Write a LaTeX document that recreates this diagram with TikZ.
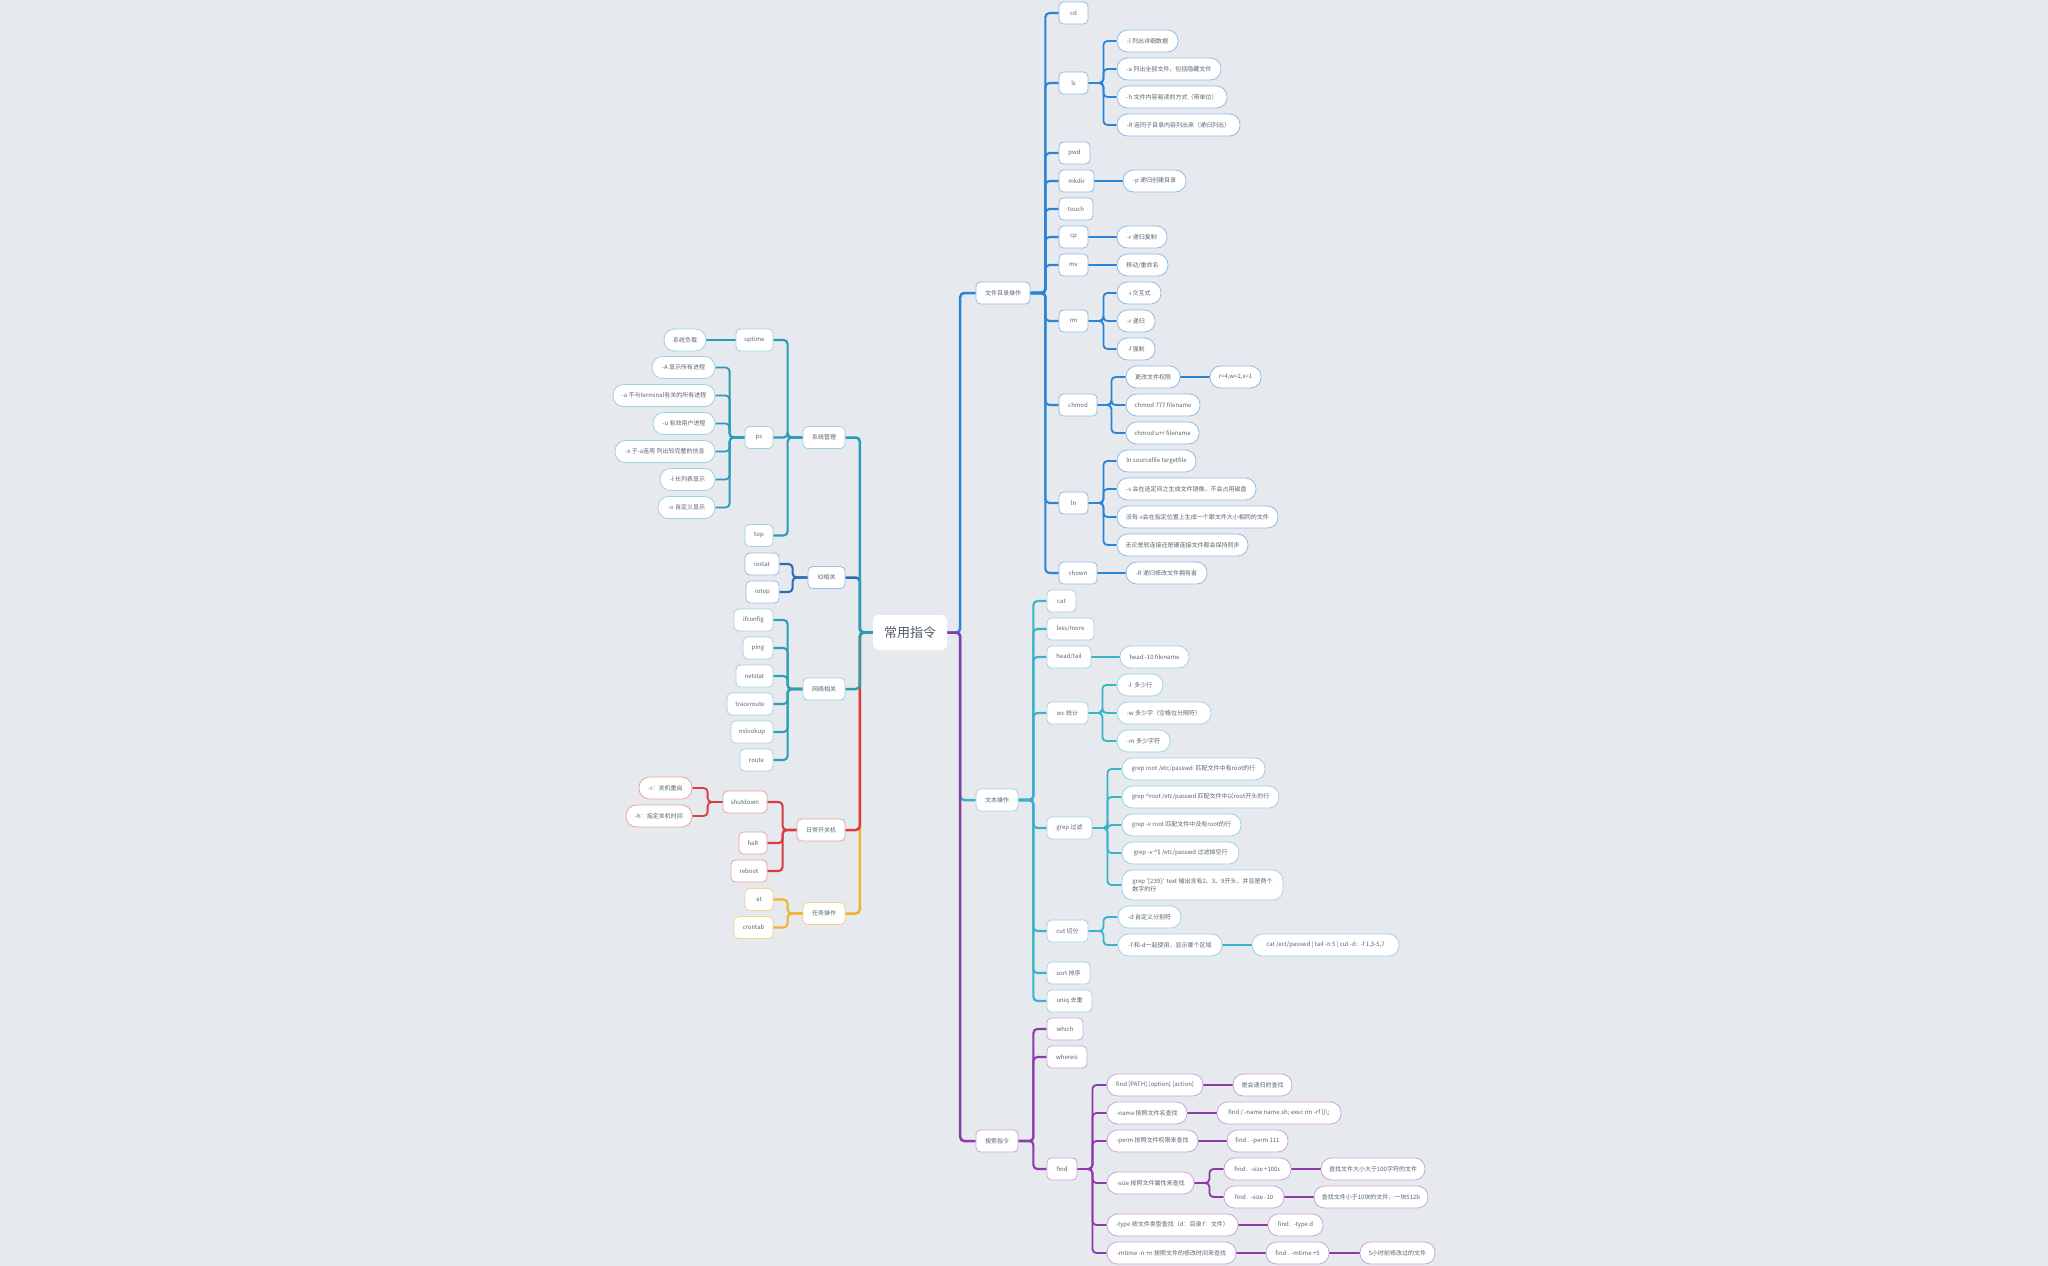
\documentclass[tikz,border=0pt]{standalone}
\usepackage{fontspec}
\newfontfamily\cjk{Noto Sans CJK SC}
\pgfdeclarelayer{bg}
\pgfdeclarelayer{lines}
\pgfsetlayers{bg,lines,main}
\definecolor{bgc}{HTML}{E6E9EE}
\definecolor{txtc}{HTML}{5A6470}
\definecolor{lBlue}{HTML}{2C84D6}\definecolor{bBlue}{HTML}{8EBDE6}
\definecolor{lTeal}{HTML}{3AB3C9}\definecolor{bTeal}{HTML}{9DD5DF}
\definecolor{lPurp}{HTML}{8B3BA7}\definecolor{bPurp}{HTML}{CDA3DB}
\definecolor{lSys}{HTML}{2A9CB6}\definecolor{bSys}{HTML}{9ED3DF}
\definecolor{lIO}{HTML}{2B6CB8}\definecolor{bIO}{HTML}{9BBBDF}
\definecolor{lNet}{HTML}{2E9FB2}\definecolor{bNet}{HTML}{9FD3DD}
\definecolor{lRed}{HTML}{D83C45}\definecolor{bRed}{HTML}{EAA1A7}
\definecolor{lYel}{HTML}{F0B331}\definecolor{bYel}{HTML}{F2D48A}
\tikzset{
  base/.style={draw, fill=white, line width=0.8pt, minimum height=22pt, inner sep=0pt,
    font=\cjk\fontsize{6}{8.5}\selectfont, text=txtc},
  rbox/.style={base, rounded corners=4.5pt},
  pill/.style={base, rounded corners=10.5pt},
  rootnode/.style={fill=white, rounded corners=6pt, minimum width=74pt, minimum height=35pt,
    inner sep=0pt, font=\cjk\fontsize{13}{15}\selectfont, text=txtc!90!black},
  Bb/.style={draw=bBlue}, Tb/.style={draw=bTeal}, Pb/.style={draw=bPurp},
  Sb/.style={draw=bSys}, Ib/.style={draw=bIO}, Nb/.style={draw=bNet},
  Rb/.style={draw=bRed}, Yb/.style={draw=bYel},
  lk0/.style={line width=2.5pt, rounded corners=4pt},
  lk1/.style={line width=2.1pt, rounded corners=4pt},
  lk/.style={line width=1.8pt, rounded corners=4pt},
}
\begin{document}
\begin{tikzpicture}[x=1pt,y=-1pt]
\begin{pgfonlayer}{bg}\fill[bgc] (0,0) rectangle (2048,1266);\end{pgfonlayer}
\useasboundingbox (0,0) rectangle (2048,1266);

\node[rootnode] (root) at (910,632.5) {常用指令};

% ---------- 文件目录操作 ----------
\node[rbox,Bb,minimum width=54] (fwd) at (1003,293) {文件目录操作};
\node[rbox,Bb,minimum width=29] (cd) at (1073.5,13) {cd};
\node[rbox,Bb,minimum width=29] (ls) at (1073.5,83) {ls};
\node[rbox,Bb,minimum width=31] (pwd) at (1074.5,153) {pwd};
\node[rbox,Bb,minimum width=35] (mkdir) at (1076.5,181) {mkdir};
\node[rbox,Bb,minimum width=34] (touch) at (1076,209) {touch};
\node[rbox,Bb,minimum width=29] (cp) at (1073.5,237) {cp};
\node[rbox,Bb,minimum width=29] (mv) at (1073.5,265) {mv};
\node[rbox,Bb,minimum width=29] (rm) at (1073.5,321) {rm};
\node[rbox,Bb,minimum width=38] (chmod) at (1078,405) {chmod};
\node[rbox,Bb,minimum width=29] (ln) at (1073.5,503) {ln};
\node[rbox,Bb,minimum width=38] (chown) at (1078,573) {chown};
\node[pill,Bb,minimum width=61] (lsa) at (1147.5,41) {-l 列出详细数据};
\node[pill,Bb,minimum width=104] (lsb) at (1169,69) {-a 列出全部文件，包括隐藏文件};
\node[pill,Bb,minimum width=110] (lsc) at (1172,97) {-h 文件内容易读的方式（带单位）};
\node[pill,Bb,minimum width=123] (lsd) at (1178.5,125) {-R 连同子目录内容列出来（递归列出）};
\node[pill,Bb,minimum width=63] (mka) at (1154.5,181) {-p 递归创建目录};
\node[pill,Bb,minimum width=50] (cpa) at (1142,237) {-r 递归复制};
\node[pill,Bb,minimum width=51] (mva) at (1142.5,265) {移动/重命名};
\node[pill,Bb,minimum width=44] (rma) at (1139,293) {-i 交互式};
\node[pill,Bb,minimum width=38] (rmb) at (1136,321) {-r 递归};
\node[pill,Bb,minimum width=38] (rmc) at (1136,349) {-f 强制};
\node[pill,Bb,minimum width=54] (cha) at (1153,377) {更改文件权限};
\node[pill,Bb,minimum width=51] (chaa) at (1235.5,377) {r=4,w=2,x=1};
\node[pill,Bb,minimum width=74] (chb) at (1163,405) {chmod 777 filename};
\node[pill,Bb,minimum width=73] (chc) at (1162.5,433) {chmod u+r filename};
\node[pill,Bb,minimum width=79] (lna) at (1156.5,461) {ln sourcefile targetfile};
\node[pill,Bb,minimum width=139] (lnb) at (1186.5,489) {-s 会在选定间之生成文件镜像，不会占用磁盘};
\node[pill,Bb,minimum width=161] (lnc) at (1197.5,517) {没有-s会在指定位置上生成一个跟文件大小相同的文件};
\node[pill,Bb,minimum width=131] (lnd) at (1182.5,545) {无论是软连接还是硬连接文件都会保持同步};
\node[pill,Bb,minimum width=81] (choa) at (1166.5,573) {-R 递归修改文件拥有者};

% ---------- 文本操作 ----------
\node[rbox,Tb,minimum width=42] (wb) at (997,800) {文本操作};
\node[rbox,Tb,minimum width=29] (cat) at (1061.5,601) {cat};
\node[rbox,Tb,minimum width=47] (lessm) at (1070.5,629) {less/more};
\node[rbox,Tb,minimum width=44] (headt) at (1069,657) {head/tail};
\node[rbox,Tb,minimum width=41] (wc) at (1067.5,713) {wc 统计};
\node[rbox,Tb,minimum width=45] (grep) at (1069.5,828) {grep 过滤};
\node[rbox,Tb,minimum width=41] (cut) at (1067.5,931) {cut 切分};
\node[rbox,Tb,minimum width=43] (sort) at (1068.5,973) {sort 排序};
\node[rbox,Tb,minimum width=45] (uniq) at (1069.5,1001) {uniq 去重};
\node[pill,Tb,minimum width=69] (hta) at (1154.5,657) {head -10 filename};
\node[pill,Tb,minimum width=46] (wca) at (1140,685) {-l \ 多少行};
\node[pill,Tb,minimum width=94] (wcb) at (1164,713) {-w 多少字（空格位分隔符）};
\node[pill,Tb,minimum width=53] (wcc) at (1143.5,741) {-m 多少字符};
\node[pill,Tb,minimum width=143] (gra) at (1193.5,769) {grep root /etc/passwd \ 匹配文件中有root的行};
\node[pill,Tb,minimum width=157] (grb) at (1200.5,797) {grep \textasciicircum root /etc/passwd 匹配文件中以root开头的行};
\node[pill,Tb,minimum width=119] (grc) at (1181.5,825) {grep -v root 匹配文件中没有root的行};
\node[pill,Tb,minimum width=117] (grd) at (1180.5,853) {grep -v \textasciicircum\$ /etc/passwd 过滤掉空行};
\node[pill,Tb,minimum width=161,minimum height=30,align=left] (gre) at (1202.5,885) {grep '[239].' text 输出含有2、3、9开头，并且是两个\\数字的行};
\node[pill,Tb,minimum width=63] (cua) at (1149.5,917) {-d 自定义分割符};
\node[pill,Tb,minimum width=104] (cub) at (1170,945) {-f 和-d一起使用，显示哪个区域};
\node[pill,Tb,minimum width=147] (cuba) at (1325.5,945) {cat /ect/passwd | tail -n 5 | cut -d : -f 1,3-5,7};

% ---------- 搜索指令 ----------
\node[rbox,Pb,minimum width=42] (ss) at (997,1141) {搜索指令};
\node[rbox,Pb,minimum width=36] (which) at (1065,1029) {which};
\node[rbox,Pb,minimum width=40] (whereis) at (1067,1057) {whereis};
\node[rbox,Pb,minimum width=30] (find) at (1062,1169) {find};
\node[pill,Pb,minimum width=96] (fa) at (1155,1085) {find [PATH] [option] [action]};
\node[pill,Pb,minimum width=59] (faa) at (1262.5,1085) {是会递归的查找};
\node[pill,Pb,minimum width=80] (fb) at (1147,1113) {-name 按照文件名查找};
\node[pill,Pb,minimum width=124] (fba) at (1279,1113) {find / -name name.sh; exec rm -rf \{\}\textbackslash;};
\node[pill,Pb,minimum width=91] (fc) at (1152.5,1141) {-perm 按照文件权限来查找};
\node[pill,Pb,minimum width=61] (fca) at (1257.5,1141) {find . -perm 111};
\node[pill,Pb,minimum width=87] (fd) at (1150.5,1183) {-size 按照文件属性来查找};
\node[pill,Pb,minimum width=67] (fda) at (1257.5,1169) {find . -size +100c};
\node[pill,Pb,minimum width=60] (fdb) at (1254,1197) {find . -size -10};
\node[pill,Pb,minimum width=104] (fdaa) at (1373,1169) {查找文件大小大于100字符的文件};
\node[pill,Pb,minimum width=114] (fdba) at (1371,1197) {查找文件小于10块的文件，一块512b};
\node[pill,Pb,minimum width=131] (fe) at (1172.5,1225) {-type 按文件类型查找（d：目录 f：文件）};
\node[pill,Pb,minimum width=55] (fea) at (1295.5,1225) {find . -type d};
\node[pill,Pb,minimum width=129] (ff) at (1171.5,1253) {-mtime -n +n 按照文件的修改时间来查找};
\node[pill,Pb,minimum width=63] (ffa) at (1297.5,1253) {find . -mtime +5};
\node[pill,Pb,minimum width=75] (ffb) at (1397.5,1253) {5小时前修改过的文件};

% ---------- 系统管理 ----------
\node[rbox,Sb,minimum width=42] (xtgl) at (824,437.5) {系统管理};
\node[rbox,Sb,minimum width=37] (uptime) at (754.5,340) {uptime};
\node[pill,Sb,minimum width=42] (xtfz) at (685,340) {系统负载};
\node[rbox,Sb,minimum width=28] (ps) at (759,437.5) {ps};
\node[pill,Sb,minimum width=63] (psa) at (683.5,367.5) {-A 显示所有进程};
\node[pill,Sb,minimum width=102] (psb) at (664,395.5) {-a 不与terminal有关的所有进程};
\node[pill,Sb,minimum width=62] (psc) at (684,423.5) {-u 有效用户进程};
\node[pill,Sb,minimum width=100] (psd) at (665,451.5) {-x 于-a连用 列出较完整的信息};
\node[pill,Sb,minimum width=55] (pse) at (687.5,479.5) {-l 长列表显示};
\node[pill,Sb,minimum width=57] (psf) at (686.5,507.5) {-o 自定义显示};
\node[rbox,Sb,minimum width=28] (topn) at (759,535.5) {top};

% ---------- IO相关 ----------
\node[rbox,Ib,minimum width=37] (io) at (826.5,577.5) {IO相关};
\node[rbox,Ib,minimum width=34] (iostat) at (762,564) {iostat};
\node[rbox,Ib,minimum width=33] (iotop) at (762.5,592) {iotop};

% ---------- 网络相关 ----------
\node[rbox,Nb,minimum width=42] (wl) at (824,689) {网络相关};
\node[rbox,Nb,minimum width=39] (ifconfig) at (753.5,620) {ifconfig};
\node[rbox,Nb,minimum width=30] (ping) at (758,648) {ping};
\node[rbox,Nb,minimum width=37] (netstat) at (754.5,676) {netstat};
\node[rbox,Nb,minimum width=46] (traceroute) at (750,704) {traceroute};
\node[rbox,Nb,minimum width=42] (nslookup) at (752,732) {nslookup};
\node[rbox,Nb,minimum width=33] (route) at (756.5,760) {route};

% ---------- 日常开关机 ----------
\node[rbox,Rb,minimum width=48] (rc) at (821,830) {日常开关机};
\node[rbox,Rb,minimum width=44] (shutdown) at (745,802) {shutdown};
\node[pill,Rb,minimum width=53] (sda) at (665.5,788) {-r：关机重启};
\node[pill,Rb,minimum width=66] (sdb) at (659,816) {-h：指定关机时间};
\node[rbox,Rb,minimum width=28] (halt) at (753,843) {halt};
\node[rbox,Rb,minimum width=36] (reboot) at (749,871) {reboot};

% ---------- 任务操作 ----------
\node[rbox,Yb,minimum width=42] (rw) at (824,913.5) {任务操作};
\node[rbox,Yb,minimum width=28] (atn) at (759,899.5) {at};
\node[rbox,Yb,minimum width=39] (crontab) at (753.5,927.5) {crontab};

\begin{pgfonlayer}{lines}
% right branches
\draw[lk0,lBlue] (root.east) -- ++(13,0) |- (fwd.west);
\draw[lk0,lTeal] (root.east) -- ++(13,0) |- (wb.west);
\draw[lk0,lPurp] (root.east) -- ++(13,0) |- (ss.west);
% left branches
\draw[lk0,lYel] (root.west) -- ++(-13,0) |- (rw.east);
\draw[lk0,lRed] (root.west) -- ++(-13,0) |- (rc.east);
\draw[lk0,lNet] (root.west) -- ++(-13,0) |- (wl.east);
\draw[lk0,lIO] (root.west) -- ++(-13,0) |- (io.east);
\draw[lk0,lSys] (root.west) -- ++(-13,0) |- (xtgl.east);

% blue
\foreach \c in {cd,ls,pwd,mkdir,touch,cp,mv,rm,chmod,ln,chown}
  \draw[lk1,lBlue] (fwd.east) -- ++(15,0) |- (\c.west);
\foreach \c in {lsa,lsb,lsc,lsd} \draw[lk,lBlue] (ls.east) -- ++(15,0) |- (\c.west);
\draw[lk,lBlue] (mkdir.east) -- (mka.west);
\draw[lk,lBlue] (cp.east) -- (cpa.west);
\draw[lk,lBlue] (mv.east) -- (mva.west);
\foreach \c in {rma,rmb,rmc} \draw[lk,lBlue] (rm.east) -- ++(15,0) |- (\c.west);
\foreach \c in {cha,chb,chc} \draw[lk,lBlue] (chmod.east) -- ++(14,0) |- (\c.west);
\draw[lk,lBlue] (cha.east) -- (chaa.west);
\foreach \c in {lna,lnb,lnc,lnd} \draw[lk,lBlue] (ln.east) -- ++(15,0) |- (\c.west);
\draw[lk,lBlue] (chown.east) -- (choa.west);

% teal
\foreach \c in {cat,lessm,headt,wc,grep,cut,sort,uniq}
  \draw[lk1,lTeal] (wb.east) -- ++(15,0) |- (\c.west);
\draw[lk,lTeal] (headt.east) -- (hta.west);
\foreach \c in {wca,wcb,wcc} \draw[lk,lTeal] (wc.east) -- ++(14,0) |- (\c.west);
\foreach \c in {gra,grb,grc,grd,gre} \draw[lk,lTeal] (grep.east) -- ++(15,0) |- (\c.west);
\foreach \c in {cua,cub} \draw[lk,lTeal] (cut.east) -- ++(15,0) |- (\c.west);
\draw[lk,lTeal] (cub.east) -- (cuba.west);

% purple
\foreach \c in {which,whereis,find}
  \draw[lk1,lPurp] (ss.east) -- ++(15,0) |- (\c.west);
\foreach \c in {fa,fb,fc,fd,fe,ff} \draw[lk,lPurp] (find.east) -- ++(15,0) |- (\c.west);
\draw[lk,lPurp] (fa.east) -- (faa.west);
\draw[lk,lPurp] (fb.east) -- (fba.west);
\draw[lk,lPurp] (fc.east) -- (fca.west);
\foreach \c in {fda,fdb} \draw[lk,lPurp] (fd.east) -- ++(15,0) |- (\c.west);
\draw[lk,lPurp] (fda.east) -- (fdaa.west);
\draw[lk,lPurp] (fdb.east) -- (fdba.west);
\draw[lk,lPurp] (fe.east) -- (fea.west);
\draw[lk,lPurp] (ff.east) -- (ffa.west);
\draw[lk,lPurp] (ffa.east) -- (ffb.west);

% left groups
\foreach \c in {uptime,ps,topn} \draw[lk1,lSys] (xtgl.west) -- ++(-15,0) |- (\c.east);
\draw[lk,lSys] (uptime.west) -- (xtfz.east);
\foreach \c in {psa,psb,psc,psd,pse,psf} \draw[lk,lSys] (ps.west) -- ++(-15,0) |- (\c.east);
\foreach \c in {iostat,iotop} \draw[lk1,lIO] (io.west) -- ++(-15,0) |- (\c.east);
\foreach \c in {ifconfig,ping,netstat,traceroute,nslookup,route} \draw[lk1,lNet] (wl.west) -- ++(-15,0) |- (\c.east);
\foreach \c in {shutdown,halt,reboot} \draw[lk1,lRed] (rc.west) -- ++(-14,0) |- (\c.east);
\foreach \c in {sda,sdb} \draw[lk,lRed] (shutdown.west) -- ++(-15,0) |- (\c.east);
\foreach \c in {atn,crontab} \draw[lk1,lYel] (rw.west) -- ++(-15,0) |- (\c.east);
\end{pgfonlayer}
\end{tikzpicture}
\end{document}
